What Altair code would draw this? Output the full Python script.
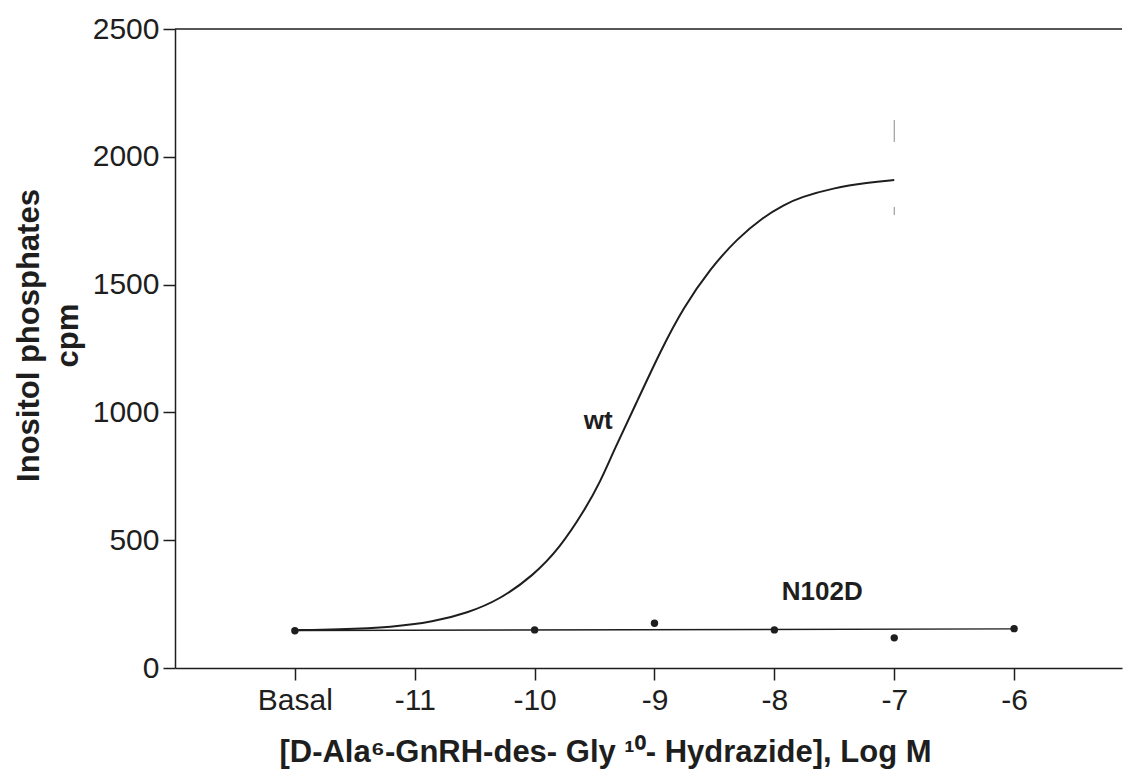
import altair as alt
import pandas as pd

# ---- data ----
# wt fitted curve (log M, cpm); Basal plotted at -12
wt_x = [-12.0, -11.65, -11.18, -10.85, -10.56, -10.29, -10.01, -9.79, -9.59, -9.45,
        -9.34, -9.14, -8.95, -8.76, -8.53, -8.31, -8.09, -7.92, -7.78, -7.51, -7.22, -7.0]
wt_y = [148, 151, 160, 180, 215, 268, 362, 470, 612, 730,
        850, 1048, 1240, 1410, 1565, 1680, 1765, 1812, 1842, 1878, 1899, 1909]

# N102D measured points
n_x = [-12, -10, -9, -8, -7, -6]
n_y = [146, 149, 175, 149, 118, 154]

# N102D fitted line
fit_x = [-12, -6]
fit_y = [147, 153]

# faint error-bar remnants at -7
err_x = [-7, -7]
err_lo = [2058, 1772]
err_hi = [2144, 1804]

# annotations
ann_text = ["wt", "N102D"]
ann_x = [-9.47, -7.60]
ann_y = [966, 297]

# axis ticks
x_tick_values = [-12, -11, -10, -9, -8, -7, -6]
x_tick_labels = ["Basal", "-11", "-10", "-9", "-8", "-7", "-6"]
y_tick_values = [0, 500, 1000, 1500, 2000, 2500]

x_domain = [-13, -5.1]
y_domain = [0, 2500]

W, H = 947, 639
FONT = "Liberation Sans"
INK = "#1e1e1e"

wt_df = pd.DataFrame({"x": wt_x, "y": wt_y})
n_df = pd.DataFrame({"x": n_x, "y": n_y})
fit_df = pd.DataFrame({"x": fit_x, "y": fit_y})
err_df = pd.DataFrame({"x": err_x, "lo": err_lo, "hi": err_hi})
ann_df = pd.DataFrame({"t": ann_text, "x": ann_x, "y": ann_y})

label_expr = " : ".join(
    [f"datum.value == {v} ? '{l}'" for v, l in zip(x_tick_values, x_tick_labels)] + ["datum.label"]
)

xs = alt.Scale(domain=x_domain, nice=False, zero=False)
ys = alt.Scale(domain=y_domain, nice=False, zero=False)

x_axis = alt.Axis(values=x_tick_values, labelExpr=label_expr,
                  title="[D-Ala⁶-GnRH-des- Gly ¹⁰- Hydrazide], Log M",
                  titlePadding=22, labelPadding=5, titleFontSize=31, titleX=430)
y_axis = alt.Axis(values=y_tick_values, format="d", title=["Inositol phosphates", "cpm"],
                  titlePadding=8, labelPadding=4, titleFontSize=31, titleLineHeight=39,
                  titleY=306)

wt_line = alt.Chart(wt_df).mark_line(color=INK, strokeWidth=2, interpolate="basis").encode(
    x=alt.X("x:Q", scale=xs, axis=x_axis),
    y=alt.Y("y:Q", scale=ys, axis=y_axis),
)

fit_line = alt.Chart(fit_df).mark_line(color=INK, strokeWidth=1.4).encode(
    x=alt.X("x:Q", scale=xs), y=alt.Y("y:Q", scale=ys)
)

pts = alt.Chart(n_df).mark_circle(color=INK, size=55, opacity=1).encode(
    x=alt.X("x:Q", scale=xs), y=alt.Y("y:Q", scale=ys)
)

err = alt.Chart(err_df).mark_rule(color="#8a8a8a", strokeWidth=1).encode(
    x=alt.X("x:Q", scale=xs), y=alt.Y("lo:Q", scale=ys), y2="hi:Q"
)

ann = alt.Chart(ann_df).mark_text(font=FONT, fontSize=26, fontWeight="bold", color=INK,
                                   align="center", baseline="middle").encode(
    x=alt.X("x:Q", scale=xs), y=alt.Y("y:Q", scale=ys), text="t:N"
)

top = alt.Chart(pd.DataFrame({"v": [y_domain[1]]})).mark_rule(color=INK, strokeWidth=1.3).encode(
    y=alt.Y("v:Q", scale=ys), x=alt.value(0), x2=alt.value(W)
)

chart = alt.layer(top, err, fit_line, wt_line, pts, ann).properties(
    width=W, height=H,
    autosize=alt.AutoSizeParams(type="none"),
    padding={"left": 175, "top": 29, "right": 7, "bottom": 113},
    background="white",
).configure_view(stroke=None).configure_axis(
    grid=False,
    labelFont=FONT, labelFontSize=30, labelColor=INK,
    titleFont=FONT, titleFontWeight="bold", titleColor=INK,
    domainColor=INK, domainWidth=1.5, tickColor=INK, tickWidth=1.5, tickSize=12,
)

chart.save("out.html", embed_options={"renderer": "svg", "actions": False})
